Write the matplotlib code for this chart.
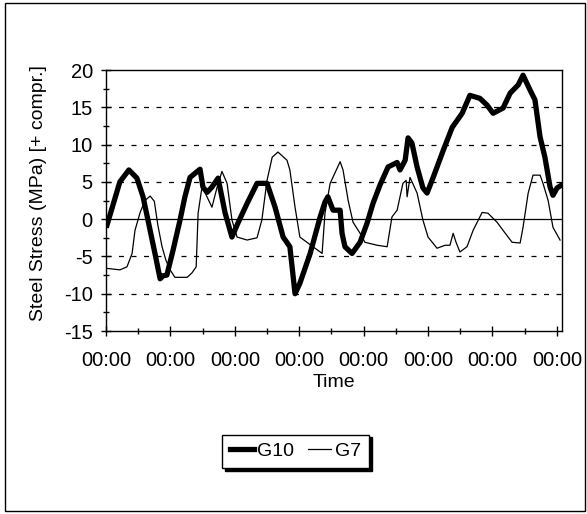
"""
Steel stress history, gauges G10 and G7
"""
import numpy as np
import matplotlib
matplotlib.use('Agg')
import matplotlib.pyplot as plt
from matplotlib.patches import Rectangle

plt.rcParams['font.family'] = ['Liberation Sans', 'DejaVu Sans']
plt.rcParams['axes.unicode_minus'] = False

# time in tick units (one minor tick = 1), stress in MPa
g10_t = [0.03, 0.43, 0.71, 0.96, 1.15, 1.37, 1.52, 1.68, 1.77, 1.89, 2.08, 2.30, 2.45,
         2.61, 2.92, 3.01, 3.14, 3.29, 3.48, 3.70, 3.91, 4.10, 4.38, 4.69, 5.00, 5.25,
         5.50, 5.71, 5.87, 6.02, 6.34, 6.65, 6.80, 6.89, 7.05, 7.27, 7.33, 7.42, 7.64,
         7.89, 8.11, 8.29, 8.51, 8.76, 9.04, 9.13, 9.29, 9.38, 9.50, 9.66, 9.84, 9.97,
         10.16, 10.47, 10.75, 11.06, 11.30, 11.61, 11.83, 12.02, 12.33, 12.55, 12.80,
         12.95, 13.17, 13.32, 13.48, 13.63, 13.79, 13.88, 14.01, 14.16]
g10_v = [-0.8, 5.0, 6.6, 5.5, 3.0, -1.5, -4.6, -8.0, -7.6, -7.5, -4.2, -0.1, 3.0,
         5.6, 6.7, 4.3, 3.6, 4.3, 5.5, 0.8, -2.4, -0.5, 2.1, 4.8, 4.8, 1.6,
         -2.4, -3.7, -10.0, -8.6, -4.6, 0.3, 2.3, 3.0, 1.2, 1.2, -1.9, -3.7, -4.6,
         -3.1, -0.5, 2.1, 4.6, 7.0, 7.6, 6.6, 7.9, 10.9, 10.2, 7.0, 4.2, 3.5,
         5.6, 9.2, 12.3, 14.2, 16.6, 16.2, 15.3, 14.2, 14.9, 16.9, 18.0,
         19.3, 17.3, 16.0, 11.0, 8.3, 4.3, 3.2, 4.2, 4.6]

g7_t = [0.03, 0.43, 0.65, 0.81, 0.90, 1.06, 1.21, 1.37, 1.50, 1.61, 1.74, 1.86, 1.99,
        2.14, 2.52, 2.67, 2.80, 2.86, 2.98, 3.07, 3.29, 3.45, 3.60, 3.76, 3.91, 4.07,
        4.38, 4.69, 4.84, 5.00, 5.16, 5.34, 5.62, 5.71, 5.87, 6.02, 6.27, 6.65, 6.71,
        6.80, 6.96, 7.11, 7.27, 7.36, 7.52, 7.67, 7.89, 8.04, 8.42, 8.73, 8.88, 9.04,
        9.22, 9.32, 9.35, 9.44, 9.66, 9.84, 10.00, 10.28, 10.53, 10.68, 10.78, 10.87,
        10.99, 11.21, 11.40, 11.68, 11.86, 12.14, 12.33, 12.61, 12.86, 12.95, 13.11,
        13.26, 13.48, 13.57, 13.73, 13.88, 14.10]
g7_v = [-6.6, -6.8, -6.4, -4.6, -1.5, 0.9, 2.5, 3.1, 2.4, -0.8, -3.7, -5.5, -6.8,
        -7.8, -7.8, -7.2, -6.4, 0.8, 4.3, 3.6, 1.6, 4.3, 6.4, 4.8, -0.1, -2.4,
        -2.8, -2.5, -0.1, 5.2, 8.3, 9.0, 7.9, 6.6, 1.6, -2.4, -3.2, -4.4, -4.6,
        0.8, 4.8, 6.2, 7.7, 6.6, 2.5, -0.4, -1.9, -3.1, -3.5, -3.7, 0.3, 1.2,
        4.8, 5.2, 3.0, 5.6, 3.5, -0.1, -2.4, -3.9, -3.5, -3.5, -1.9, -3.1,
        -4.4, -3.7, -1.5, 0.9, 0.8, -0.4, -1.5, -3.1, -3.2, -1.1, 3.5,
        5.9, 5.9, 4.8, 2.5, -1.1, -2.8]

tick_labels = ["00:00"] * 8

fig = plt.figure(figsize=(5.87, 5.14), dpi=100)
ax = fig.add_axes([0.1806, 0.356, 0.7768, 0.5078])

# dashed gridlines and zero line
for yv in [15, 10, 5, -5, -10]:
    ax.axhline(yv, color='black', lw=0.9, dashes=(4, 6), zorder=1)
ax.axhline(0, color='black', lw=0.9, zorder=1)

ax.plot(g10_t, g10_v, color='black', lw=3.8, solid_joinstyle='round', label='G10', zorder=3)
ax.plot(g7_t, g7_v, color='black', lw=0.9, label='G7', zorder=2)

ax.set_xlim(0, 14.16)
ax.set_ylim(-15, 20)
ax.set_xticks(np.arange(0, 15, 2))
ax.set_xticklabels(tick_labels)
ax.set_xticks(np.arange(1, 15, 2), minor=True)
ax.set_yticks(np.arange(-15, 21, 5))
ax.set_yticks(np.arange(-12.5, 20, 5), minor=True)
ax.tick_params(which='major', direction='inout', length=7, width=1, labelsize=14.5)
ax.tick_params(which='minor', direction='inout', length=5, width=1)
ax.tick_params(axis='x', pad=11)
ax.tick_params(axis='y', pad=6)
for s in ax.spines.values():
    s.set_linewidth(1)

ax.set_xlabel("Time", fontsize=14, labelpad=3)
ax.set_ylabel("Steel Stress (MPa) [+ compr.]", fontsize=14)
ax.yaxis.set_label_coords(-0.13, 0.53)

fig.legend(loc='center', bbox_to_anchor=(0.504, 0.122), ncol=2, fontsize=14,
           handlelength=1.2, handletextpad=0.2, columnspacing=0.7,
           fancybox=False, edgecolor='black', framealpha=1,
           shadow={'color': 'black', 'alpha': 1})

# border round the whole figure
fig.patches.append(Rectangle((0.008, 0.005), 0.989, 0.99, transform=fig.transFigure,
                             fill=False, edgecolor='black', lw=1))

plt.savefig("out.png", dpi=100)
plt.close()
